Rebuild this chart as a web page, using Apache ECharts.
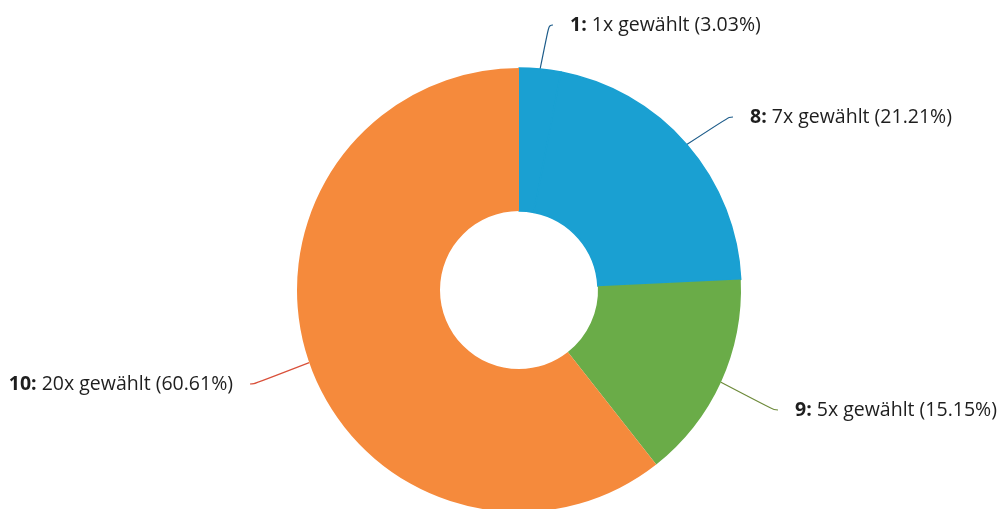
<!DOCTYPE html>
<html>
<head>
<meta charset="utf-8">
<script src="https://cdn.jsdelivr.net/npm/echarts@6/dist/echarts.min.js"></script>
<style>
  html, body { margin: 0; padding: 0; background: #fff; }
  #main { width: 1000px; height: 509px; }
</style>
</head>
<body>
<div id="main"></div>
<script>
// Werte aus der Abbildung
var names = ['1', '8', '9', '10'];
var counts = [1, 7, 5, 20];

var colors = ['#1aa0d2', '#1aa0d2', '#6aac48', '#f58a3c'];
var lineColors = ['#1d5c8a', '#1d5c8a', '#6d8a3a', '#d9503a'];
// label box anchor: [x, y(middle), align]
var labelPos = [[553, 25, 'left'], [733, 117, 'left'], [778, 410, 'left'], [250, 384, 'right']];

var myChart = echarts.init(document.getElementById('main'));

myChart.setOption({
  animation: false,
  series: [
    {
      type: 'pie',
      center: [519, 290],
      radius: [79, 222],
      startAngle: 90,
      clockwise: true,
      avoidLabelOverlap: false,
      padAngle: 0,
      label: {
        show: true,
        position: 'outside',
        fontFamily: 'Open Sans',
        fontSize: 19.5,
        color: '#1e1e1e',
        formatter: function (p) {
          var txt = '{b|' + p.name + ':} {t|' + p.value + 'x gewählt (' + p.percent.toFixed(2) + '%)}';
          return labelPos[p.dataIndex][2] === 'right' ? txt + '{s|}' : '{s|}' + txt;
        },
        rich: {
          b: { fontFamily: 'Open Sans', fontSize: 19.5, fontWeight: 'bold', color: '#1e1e1e' },
          t: { fontFamily: 'Open Sans', fontSize: 19.5, color: '#1e1e1e' },
          s: { width: 17, height: 10 }
        }
      },
      labelLine: {
        show: true,
        length: 20,
        length2: 4,
        smooth: 0.5,
        lineStyle: { width: 1.2 }
      },
      labelLayout: function (params) {
        var p = labelPos[params.dataIndex];
        return { x: p[0], y: p[1], align: p[2], verticalAlign: 'middle' };
      },
      data: names.map(function (n, i) {
        return {
          name: n,
          value: counts[i],
          itemStyle: {
            color: colors[i],
            borderColor: colors[i],
            borderWidth: i < 2 ? 1.5 : 0,
            borderJoin: 'round'
          },
          labelLine: { lineStyle: { color: lineColors[i] } }
        };
      })
    }
  ]
});
</script>
</body>
</html>
